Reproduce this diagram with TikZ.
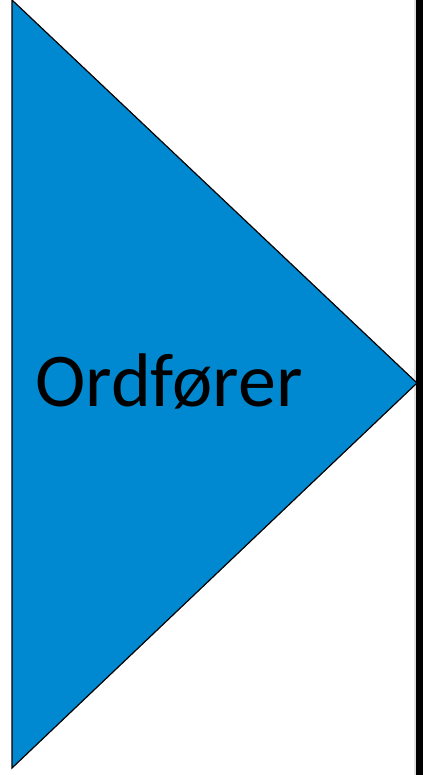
\documentclass[tikz,border=0pt]{standalone}
\usepackage{fontspec}
\setmainfont{Carlito}
\definecolor{triblue}{RGB}{0,137,209}
\begin{document}
\begin{tikzpicture}[x=1pt,y=1pt,
  tri/.style={fill=triblue,draw=black,line width=1.2pt,line join=miter},
  bar/.style={fill=black,draw=none},
  lbl/.style={font=\fontsize{76}{80}\selectfont,text=black,anchor=base west,inner sep=0pt}]
\useasboundingbox (0,0) rectangle (423,775);
\fill[white] (0,0) rectangle (423,775);
\fill[black!12] (414,0) rectangle (416,775);
\coordinate (t) at (12,775);
\coordinate (b) at (12,7);
\coordinate (p) at (417,392);
\draw[tri] (t) -- (p) -- (b) -- cycle;
\node[bar,minimum width=7pt,minimum height=775pt,inner sep=0pt,anchor=south west] (rb) at (416,0) {};
\node[lbl] (txt) at (35,368) {Ordfører};
\end{tikzpicture}
\end{document}
